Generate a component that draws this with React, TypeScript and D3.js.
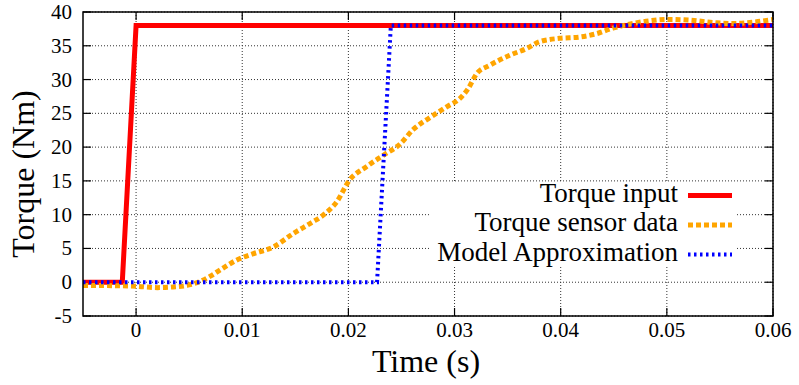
import * as d3 from 'd3';

// Torque input (step)
const inputTime = [-0.005, -0.0013, 0, 0.06];
const inputTorque = [0, 0, 38, 38];

// Model approximation (delayed step)
const modelTime = [-0.005, 0.0227, 0.024, 0.06];
const modelTorque = [0, 0, 38, 38];

// Torque sensor data
const sensorTime = [
  -0.005, -0.003, 0, 0.002, 0.0035, 0.005, 0.006, 0.007, 0.008, 0.0095, 0.011, 0.0129,
  0.0148, 0.0165, 0.0176, 0.0189, 0.0201, 0.0217, 0.0233, 0.0249, 0.0261, 0.0277, 0.0293,
  0.0305, 0.0313, 0.0321, 0.0333, 0.0352, 0.0368, 0.038, 0.0399, 0.0418, 0.0434, 0.0449,
  0.0468, 0.0484, 0.05, 0.0521, 0.0547, 0.0562, 0.0581, 0.06,
];
const sensorTorque = [
  -0.5, -0.5, -0.6, -0.8, -0.7, -0.4, 0.1, 0.9, 1.9, 3.3, 4.2, 5.2,
  7.2, 8.8, 9.9, 11.9, 15.1, 17.1, 18.8, 20.5, 22.6, 24.4, 26.0,
  27.2, 28.7, 30.9, 32.1, 33.6, 34.6, 35.6, 36.1, 36.3, 36.8, 37.6,
  38.3, 38.7, 38.9, 38.8, 38.4, 38.3, 38.5, 38.9,
];

const xTicks = [0, 0.01, 0.02, 0.03, 0.04, 0.05, 0.06];
const yTicks = [-5, 0, 5, 10, 15, 20, 25, 30, 35, 40];
const legendLabels = ['Torque input', 'Torque sensor data', 'Model Approximation'];

const txt = { fontFamily: "'Liberation Serif'" };

type Pt = { t: number; v: number };
const toPts = (ts: number[], vs: number[]): Pt[] => ts.map((t, i) => ({ t, v: vs[i] }));

export default function App() {
  const width = 799;
  const height = 385;
  const margin = { top: 12, right: 26, bottom: 69, left: 83 };
  const innerWidth = width - margin.left - margin.right;
  const innerHeight = height - margin.top - margin.bottom;

  const x = d3.scaleLinear().domain([-0.005, 0.06]).range([0, innerWidth]);
  const y = d3.scaleLinear().domain([-5, 40]).range([innerHeight, 0]);

  const line = d3
    .line<Pt>()
    .x((d) => x(d.t))
    .y((d) => y(d.v));
  const smooth = d3
    .line<Pt>()
    .x((d) => x(d.t))
    .y((d) => y(d.v))
    .curve(d3.curveMonotoneX);

  const series = [
    { d: line(toPts(inputTime, inputTorque)), color: '#ff0000', w: 5, dash: undefined as string | undefined },
    { d: smooth(toPts(sensorTime, sensorTorque)), color: '#ffa500', w: 5, dash: '5,3' },
    { d: line(toPts(modelTime, modelTorque)), color: '#0000ff', w: 4, dash: '2.5,3.5' },
  ];

  const tickLen = 8;

  return (
    <svg width={width} height={height} style={{ position: 'absolute', left: 0, top: 0, background: '#fff' }}>
      <defs>
        <clipPath id="plot-clip">
          <rect width={innerWidth} height={innerHeight} />
        </clipPath>
      </defs>
      <g transform={`translate(${margin.left},${margin.top})`}>
        {/* grid */}
        <g stroke="#333" strokeWidth={1} strokeDasharray="1,2">
          {xTicks.map((t) => (
            <line key={`gx${t}`} x1={x(t)} x2={x(t)} y1={0} y2={innerHeight} />
          ))}
          {yTicks.map((t) => (
            <line key={`gy${t}`} x1={0} x2={innerWidth} y1={y(t)} y2={y(t)} />
          ))}
        </g>

        {/* ticks, inward on all sides */}
        <g stroke="#000" strokeWidth={1.2}>
          {xTicks.map((t) => (
            <g key={`tx${t}`}>
              <line x1={x(t)} x2={x(t)} y1={innerHeight} y2={innerHeight - tickLen} />
              <line x1={x(t)} x2={x(t)} y1={0} y2={tickLen} />
            </g>
          ))}
          {yTicks.map((t) => (
            <g key={`ty${t}`}>
              <line x1={0} x2={tickLen} y1={y(t)} y2={y(t)} />
              <line x1={innerWidth} x2={innerWidth - tickLen} y1={y(t)} y2={y(t)} />
            </g>
          ))}
        </g>

        {/* tick labels */}
        {xTicks.map((t) => (
          <text key={`lx${t}`} x={x(t)} y={innerHeight + 21} textAnchor="middle" fontSize={21} style={txt}>
            {String(t)}
          </text>
        ))}
        {yTicks.map((t) => (
          <text key={`ly${t}`} x={-11} y={y(t) + 7} textAnchor="end" fontSize={21} style={txt}>
            {String(t)}
          </text>
        ))}

        {/* series */}
        <g clipPath="url(#plot-clip)">
          {series.map((s, i) => (
            <path
              key={i}
              d={s.d ?? ''}
              fill="none"
              stroke={s.color}
              strokeWidth={s.w}
              strokeDasharray={s.dash}
            />
          ))}
        </g>

        {/* frame */}
        <rect width={innerWidth} height={innerHeight} fill="none" stroke="#000" strokeWidth={1.5} />
      </g>

      {/* axis titles */}
      <text x={margin.left + innerWidth / 2 - 2} y={372} textAnchor="middle" fontSize={32} style={txt}>
        Time (s)
      </text>
      <text
        transform={`translate(34,${margin.top + innerHeight / 2 + 10}) rotate(-90)`}
        textAnchor="middle"
        fontSize={32}
        style={txt}
      >
        Torque (Nm)
      </text>

      {/* legend, opaque box */}
      <rect x={430} y={182} width={306} height={83} fill="#fff" />
      {legendLabels.map((label, i) => {
        const by = 201.5 + i * 29.5;
        const s = series[i];
        return (
          <g key={label}>
            <text x={678} y={by} textAnchor="end" fontSize={27} style={txt}>
              {label}
            </text>
            <line
              x1={688}
              x2={732}
              y1={by - 6}
              y2={by - 6}
              stroke={s.color}
              strokeWidth={s.w}
              strokeDasharray={s.dash}
            />
          </g>
        );
      })}
    </svg>
  );
}
